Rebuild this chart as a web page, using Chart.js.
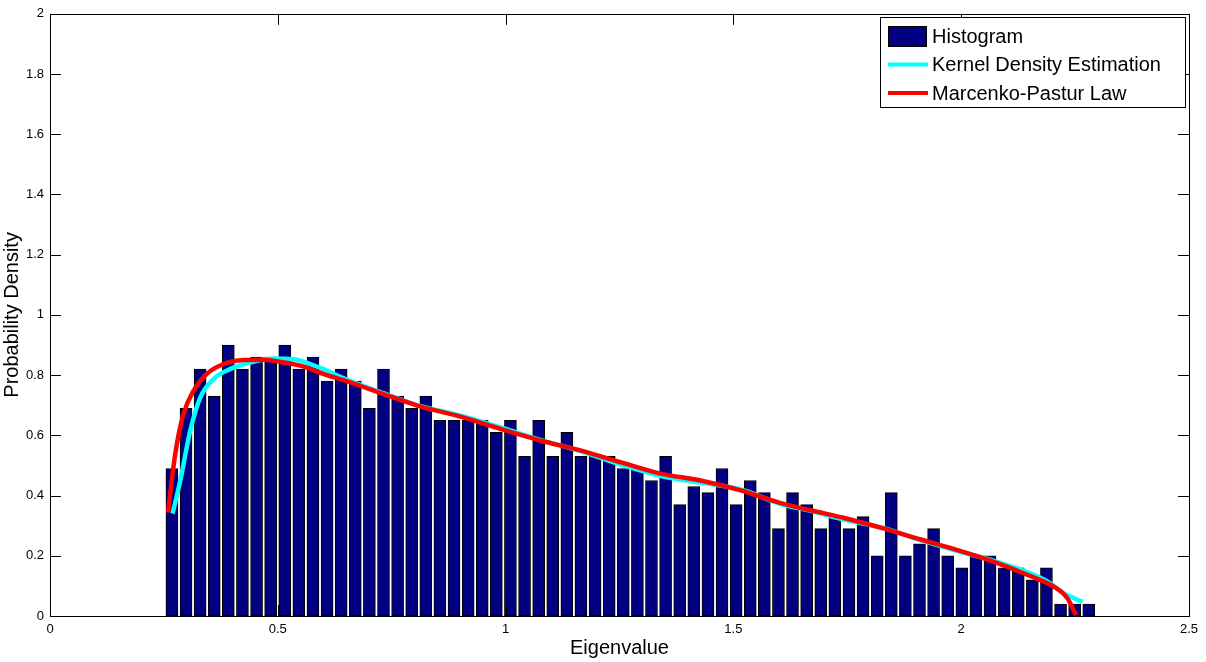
<!DOCTYPE html>
<html>
<head>
<meta charset="utf-8">
<script src="https://cdn.jsdelivr.net/npm/chart.js@4.4.1/dist/chart.umd.min.js"></script>
<style>
  body { margin: 0; background: #fff; }
  #wrap { width: 1206px; height: 662px; }
</style>
</head>
<body>
<div id="wrap"><canvas id="histChart" width="1206" height="662"></canvas></div>
<script>
// bin centres of the histogram (eigenvalue)
const binCenters = [
    0.2676, 0.2986, 0.3295, 0.3605, 0.3914, 0.4224, 0.4534, 0.4843, 0.5153, 0.5462,
    0.5772, 0.6082, 0.6391, 0.6701, 0.7010, 0.7320, 0.7630, 0.7939, 0.8249, 0.8558,
    0.8868, 0.9178, 0.9487, 0.9797, 1.0106, 1.0416, 1.0726, 1.1035, 1.1345, 1.1654,
    1.1964, 1.2274, 1.2583, 1.2893, 1.3202, 1.3512, 1.3822, 1.4131, 1.4441, 1.4750,
    1.5060, 1.5370, 1.5679, 1.5989, 1.6298, 1.6608, 1.6918, 1.7227, 1.7537, 1.7846,
    1.8156, 1.8466, 1.8775, 1.9085, 1.9394, 1.9704, 2.0014, 2.0323, 2.0633, 2.0942,
    2.1252, 2.1562, 2.1871, 2.2181, 2.2490, 2.2800
];

// histogram heights (probability density)
const histValues = [
    0.49, 0.69, 0.82, 0.73, 0.90, 0.82, 0.86, 0.86, 0.90, 0.82,
    0.86, 0.78, 0.82, 0.78, 0.69, 0.82, 0.73, 0.69, 0.73, 0.65,
    0.65, 0.65, 0.65, 0.61, 0.65, 0.53, 0.65, 0.53, 0.61, 0.53,
    0.53, 0.53, 0.49, 0.49, 0.45, 0.53, 0.37, 0.43, 0.41, 0.49,
    0.37, 0.45, 0.41, 0.29, 0.41, 0.37, 0.29, 0.33, 0.29, 0.33,
    0.20, 0.41, 0.20, 0.24, 0.29, 0.20, 0.16, 0.20, 0.20, 0.16,
    0.16, 0.12, 0.16, 0.04, 0.04, 0.04
];

// kernel density estimation curve
const kdeX = [0.269, 0.286, 0.308, 0.330, 0.359, 0.395, 0.439, 0.491, 0.535, 0.586,
    0.659, 0.732, 0.806, 0.901, 0.989, 1.076, 1.164, 1.252, 1.340, 1.428,
    1.516, 1.604, 1.670, 1.750, 1.831, 1.911, 1.992, 2.072, 2.153, 2.190,
    2.226, 2.266];
const kdeY = [0.340, 0.450, 0.616, 0.726, 0.787, 0.820, 0.842, 0.855, 0.853, 0.828,
    0.780, 0.740, 0.700, 0.665, 0.626, 0.585, 0.548, 0.503, 0.465, 0.443,
    0.420, 0.372, 0.349, 0.318, 0.292, 0.252, 0.216, 0.183, 0.141, 0.114,
    0.075, 0.047];

// Marcenko-Pastur law curve
const mpX = [0.259, 0.275, 0.293, 0.315, 0.344, 0.381, 0.425, 0.469, 0.513, 0.557,
    0.600, 0.659, 0.732, 0.806, 0.901, 0.989, 1.076, 1.164, 1.252, 1.340,
    1.428, 1.516, 1.604, 1.670, 1.750, 1.831, 1.911, 1.992, 2.072, 2.153,
    2.204, 2.233, 2.252];
const mpY = [0.344, 0.539, 0.671, 0.748, 0.804, 0.837, 0.850, 0.851, 0.842, 0.828,
    0.804, 0.776, 0.737, 0.699, 0.662, 0.621, 0.583, 0.550, 0.511, 0.473,
    0.450, 0.417, 0.375, 0.351, 0.323, 0.290, 0.254, 0.219, 0.180, 0.132,
    0.097, 0.059, 0.003];

const xTicks = [0, 0.5, 1, 1.5, 2, 2.5];
const yTicks = [0, 0.2, 0.4, 0.6, 0.8, 1, 1.2, 1.4, 1.6, 1.8, 2];

const legendItems = [
    { label: 'Histogram', kind: 'box', color: '#000080' },
    { label: 'Kernel Density Estimation', kind: 'line', color: '#00ffff' },
    { label: 'Marcenko-Pastur Law', kind: 'line', color: '#ff0000' }
];

const toPoints = (xs, ys) => xs.map((x, i) => ({ x: x, y: ys[i] }));

// matlab style box with inward ticks on all four sides
const boxPlugin = {
    id: 'boxPlugin',
    afterDraw(chart) {
        const ctx = chart.ctx;
        const a = chart.chartArea;
        const xs = chart.scales.x;
        const ys = chart.scales.y;
        const len = 11;
        ctx.save();
        ctx.strokeStyle = '#000';
        ctx.lineWidth = 1;
        ctx.beginPath();
        xTicks.forEach(v => {
            const px = Math.round(xs.getPixelForValue(v)) + 0.5;
            ctx.moveTo(px, a.bottom); ctx.lineTo(px, a.bottom - len);
            ctx.moveTo(px, a.top); ctx.lineTo(px, a.top + len);
        });
        yTicks.forEach(v => {
            const py = Math.round(ys.getPixelForValue(v)) + 0.5;
            ctx.moveTo(a.left, py); ctx.lineTo(a.left + len, py);
            ctx.moveTo(a.right, py); ctx.lineTo(a.right - len, py);
        });
        ctx.stroke();
        ctx.strokeRect(Math.round(a.left) + 0.5, Math.round(a.top) + 0.5,
            Math.round(a.right - a.left), Math.round(a.bottom - a.top));

        // legend box
        const lx = 880, ly = 17, lw = 305, lh = 90;
        ctx.fillStyle = '#fff';
        ctx.fillRect(lx, ly, lw, lh);
        ctx.strokeRect(lx + 0.5, ly + 0.5, lw, lh);
        ctx.font = '20px "Liberation Sans", Arial, sans-serif';
        ctx.textBaseline = 'middle';
        legendItems.forEach((item, i) => {
            const cy = ly + 19 + i * 28.5;
            if (item.kind === 'box') {
                ctx.fillStyle = item.color;
                ctx.fillRect(888, cy - 10, 38, 20);
                ctx.strokeRect(888.5, cy - 9.5, 38, 20);
            } else {
                ctx.strokeStyle = item.color;
                ctx.lineWidth = 4;
                ctx.beginPath();
                ctx.moveTo(888, cy); ctx.lineTo(928, cy);
                ctx.stroke();
                ctx.strokeStyle = '#000';
                ctx.lineWidth = 1;
            }
            ctx.fillStyle = '#000';
            ctx.fillText(item.label, 932, cy + 1);
        });
        ctx.restore();
    }
};

const tickFont = { family: '"Liberation Sans", Arial, sans-serif', size: 13 };
const titleFont = { family: '"Liberation Sans", Arial, sans-serif', size: 20 };

new Chart(document.getElementById('histChart'), {
    type: 'bar',
    data: {
        datasets: [
            {
                type: 'line',
                label: 'Marcenko-Pastur Law',
                data: toPoints(mpX, mpY),
                borderColor: '#ff0000',
                borderWidth: 4.5,
                pointRadius: 0,
                cubicInterpolationMode: 'monotone',
                order: 1
            },
            {
                type: 'line',
                label: 'Kernel Density Estimation',
                data: toPoints(kdeX, kdeY),
                borderColor: '#00ffff',
                borderWidth: 4.5,
                pointRadius: 0,
                cubicInterpolationMode: 'monotone',
                order: 2
            },
            {
                label: 'Histogram',
                data: toPoints(binCenters, histValues),
                backgroundColor: '#000080',
                borderColor: '#000',
                borderWidth: 1,
                borderSkipped: false,
                barThickness: 12,
                order: 3
            }
        ]
    },
    options: {
        responsive: false,
        animation: false,
        devicePixelRatio: 1,
        layout: { padding: { top: 12, right: 17, left: 0, bottom: 0 } },
        plugins: {
            legend: { display: false },
            tooltip: { enabled: false }
        },
        scales: {
            x: {
                type: 'linear',
                offset: false,
                min: 0,
                max: 2.5,
                afterBuildTicks: s => { s.ticks = xTicks.map(v => ({ value: v })); },
                afterFit: s => { s.height = 46; },
                grid: { display: false, drawTicks: false, offset: false },
                border: { display: false },
                ticks: {
                    font: tickFont,
                    color: '#000',
                    padding: 6,
                    maxRotation: 0,
                    callback: v => String(v)
                },
                title: { display: true, text: 'Eigenvalue', font: titleFont, color: '#000', padding: { top: 0, bottom: 2 } }
            },
            y: {
                min: 0,
                max: 2,
                afterBuildTicks: s => { s.ticks = yTicks.map(v => ({ value: v })); },
                afterFit: s => { s.width = 50; },
                grid: { display: false, drawTicks: false },
                border: { display: false },
                ticks: {
                    font: tickFont,
                    color: '#000',
                    padding: 6,
                    callback: v => String(Math.round(v * 10) / 10)
                },
                title: { display: true, text: 'Probability Density', font: titleFont, color: '#000', padding: { top: 0, bottom: 0 } }
            }
        }
    },
    plugins: [boxPlugin]
});
</script>
</body>
</html>
